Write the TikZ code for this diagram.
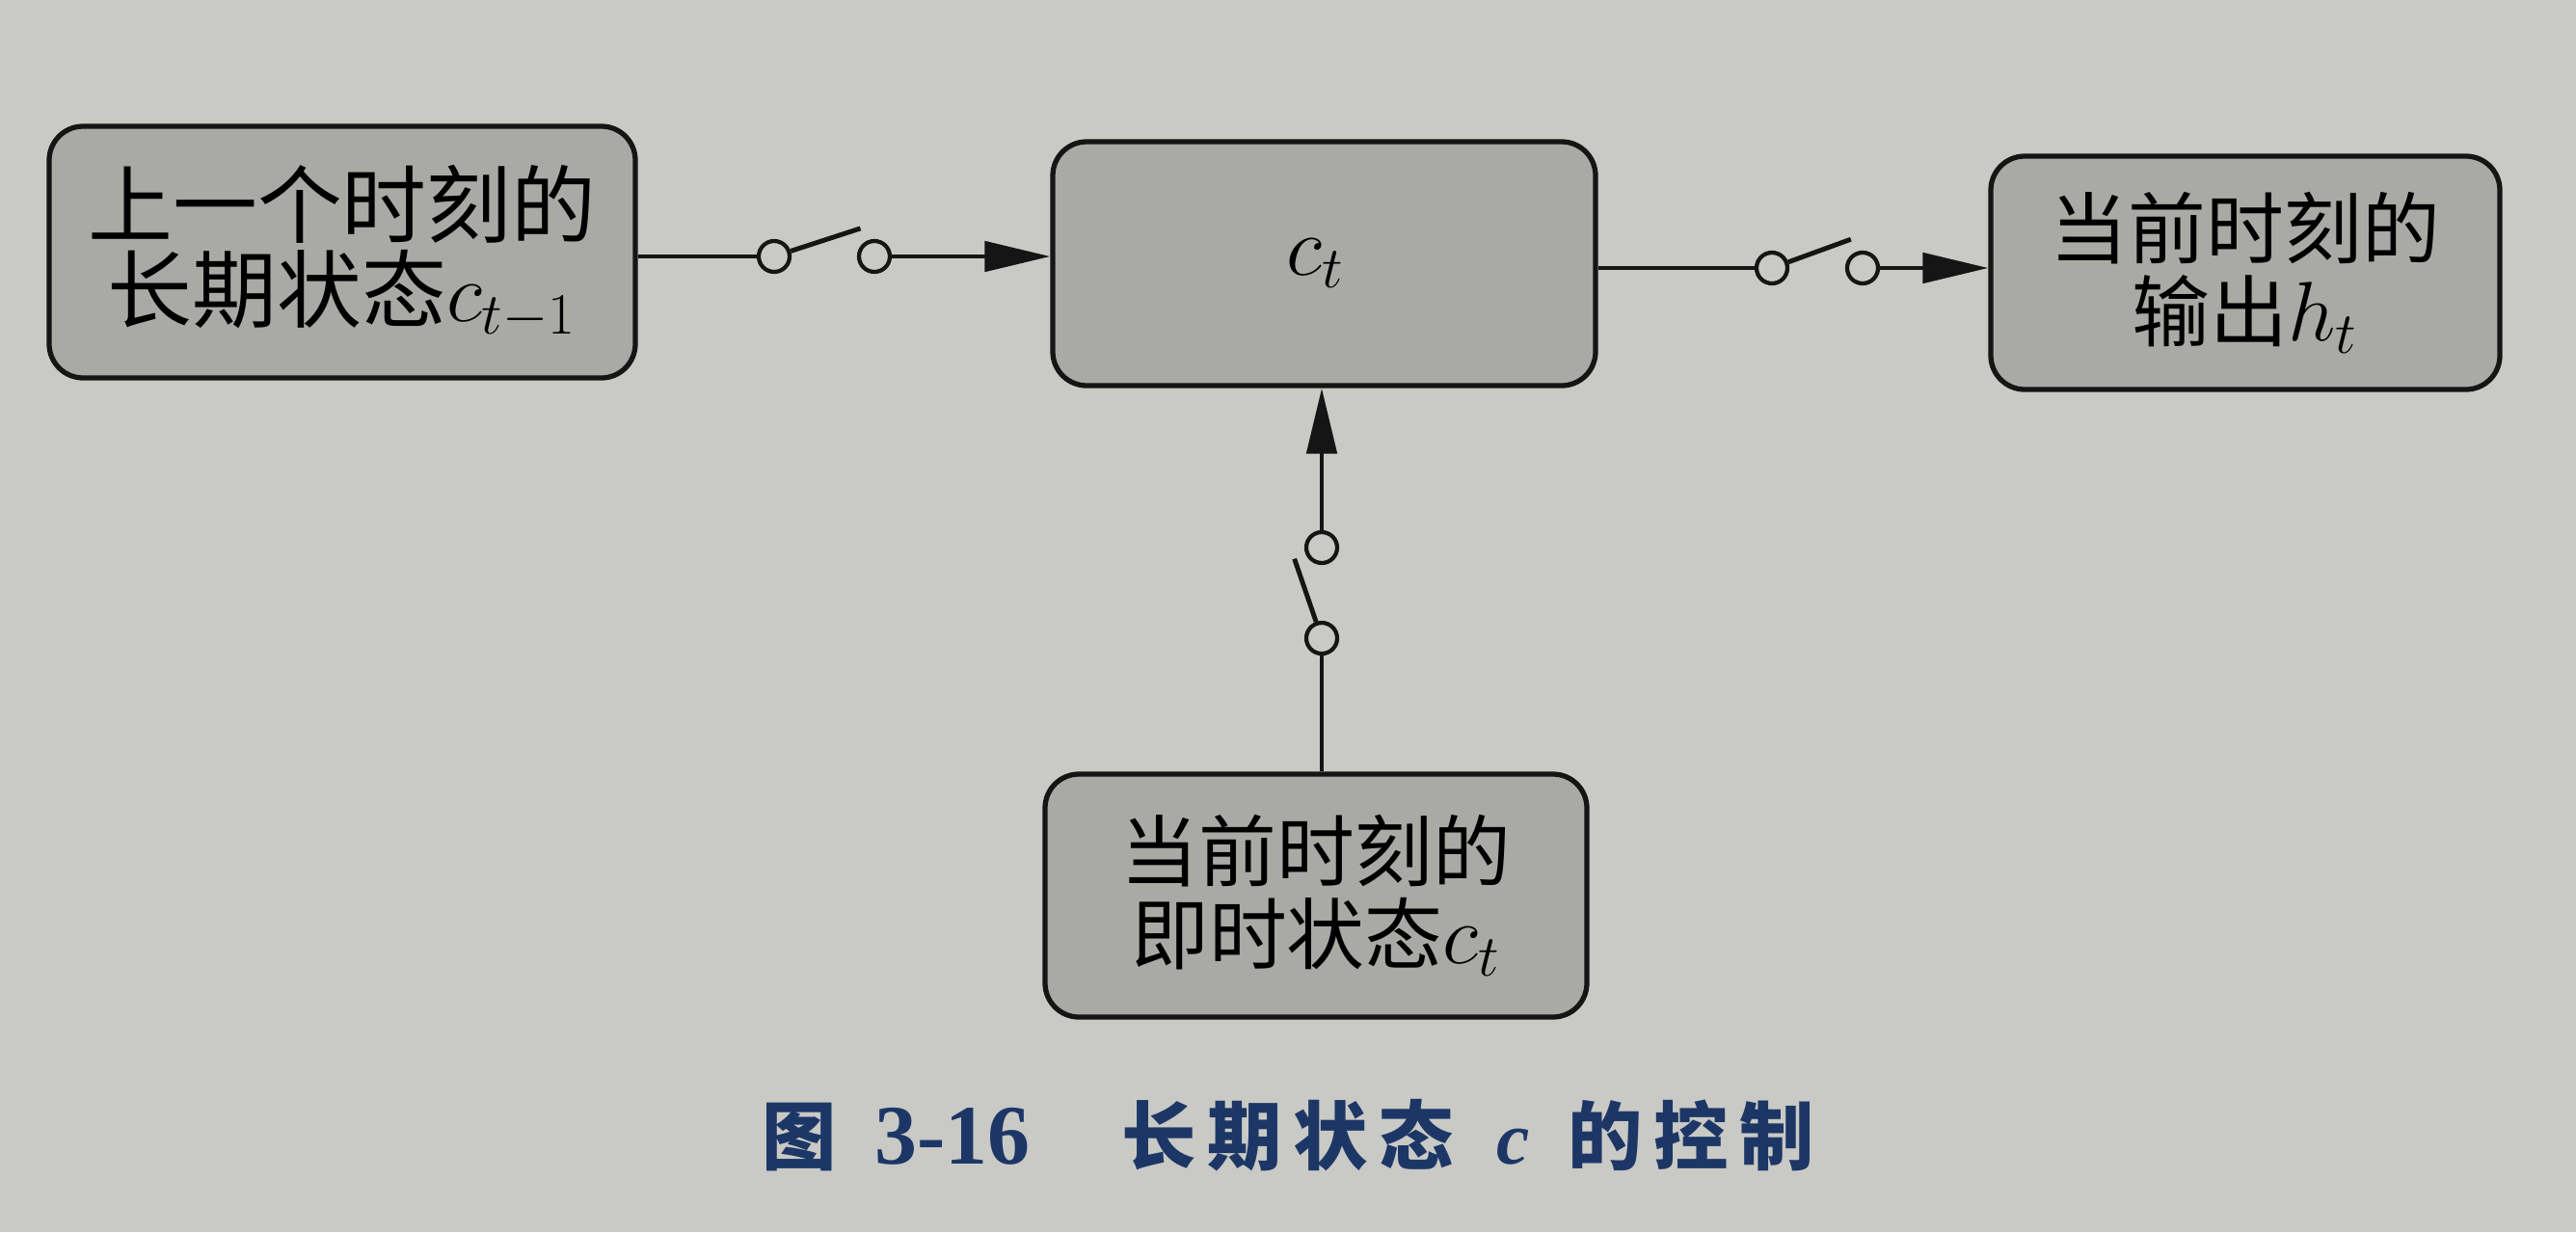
\documentclass[tikz,border=0pt]{standalone}
\usepackage{fontspec}
\setmainfont{Liberation Serif}
\newfontfamily\cjk{Noto Sans CJK SC}
\newfontfamily\cjkcap[LetterSpace=15]{Noto Sans CJK SC}
\usepackage{tikz}
\usetikzlibrary{calc,positioning,arrows.meta}
\definecolor{paper}{HTML}{C9C9C5}
\definecolor{cellgray}{HTML}{A9A9A6}
\definecolor{inkline}{HTML}{151515}
\definecolor{captionblue}{HTML}{1C3766}

\begin{document}
\begin{tikzpicture}[
  statebox/.style={
    rectangle, rounded corners=10pt,
    draw=inkline, line width=1.5pt, fill=cellgray,
    align=center, inner sep=0pt,
    font={\cjk\fontsize{23}{24.5}\selectfont},
  },
  pin/.style={circle, draw=inkline, line width=1.2pt, fill=paper,
    minimum size=3.2mm, inner sep=0pt},
  wire/.style={draw=inkline, line width=1.4pt},
  feed/.style={wire, -{Triangle[length=6.8mm, width=3.1mm]}},
]

\fill[paper] (0,0) rectangle (26.72,-12.78);
\useasboundingbox (0,0) rectangle (26.72,-12.78);

\node[statebox, minimum width=60.8mm, minimum height=26.1mm,
  font={\cjk\fontsize{25}{25}\selectfont}] (prev) at (3.55,-2.615) {
  上一个时刻的\\长期状态$c_{t-1}$
};

\node[statebox, minimum width=56.3mm, minimum height=25.3mm] (cell) at (13.735,-2.735) {
  $c_t$
};

\node[statebox, minimum width=52.8mm, minimum height=24.2mm] (out) at (23.29,-2.83) {
  当前时刻的\\输出$h_t$
};

\node[statebox, minimum width=56.2mm, minimum height=25.2mm] (cand) at (13.65,-9.29) {
  当前时刻的\\即时状态$c_t$
};

% switches
\node[pin] (s1a) at (8.03,-2.66) {};
\node[pin] (s1b) at (9.07,-2.66) {};
\node[pin] (s2a) at (18.38,-2.78) {};
\node[pin] (s2b) at (19.32,-2.78) {};
\node[pin] (s3a) at (13.71,-6.62) {};
\node[pin] (s3b) at (13.71,-5.68) {};

\draw[wire] (s1a -| prev.east) -- (s1a);
\draw[wire] (s1a.18) -- ++(18:7.6mm);
\draw[feed] (s1b) -- (s1b -| cell.west);

\draw[wire] (s2a -| cell.east) -- (s2a);
\draw[wire] (s2a.20) -- ++(20:6.9mm);
\draw[feed] (s2b) -- (s2b -| out.west);

\draw[wire] (s3a |- cand.north) -- (s3a);
\draw[wire] (s3a.109) -- ++(109:6.9mm);
\draw[feed] (s3b) -- (s3b |- cell.south);

\node[text=captionblue, font={\fontsize{22}{24}\selectfont\bfseries}] (caption) at (13.36,-11.78) {
  {\cjkcap 图}\hspace{4mm}{\fontsize{25}{26}\selectfont 3-16}\hspace{9.5mm}{\cjkcap 长期状态}\hspace{4.5mm}{\itshape c}\hspace{4mm}{\cjkcap 的控制}
};

\end{tikzpicture}
\end{document}
